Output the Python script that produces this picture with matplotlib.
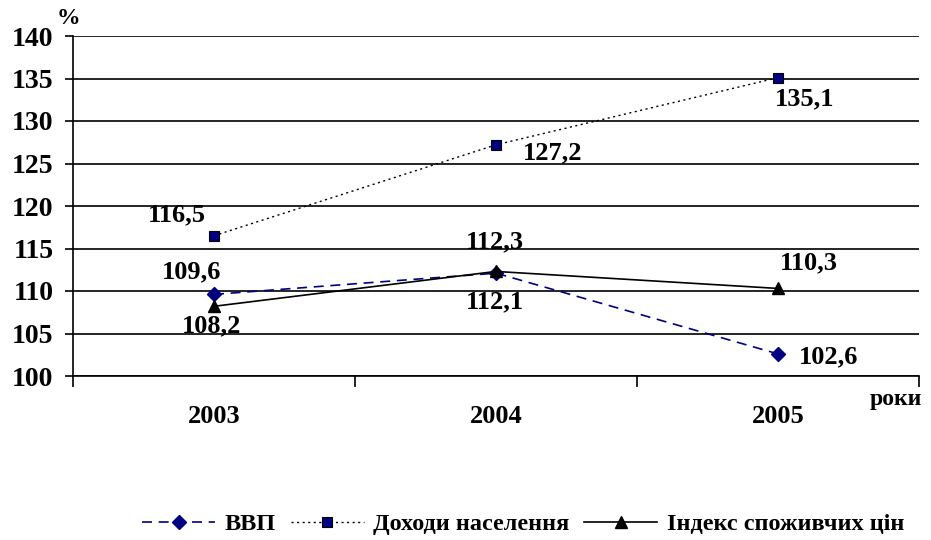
import matplotlib
matplotlib.use("Agg")
import matplotlib.pyplot as plt
from matplotlib.ticker import FixedLocator, NullFormatter

plt.rcParams['font.family'] = ['Liberation Serif', 'DejaVu Serif']
plt.rcParams['font.weight'] = 'bold'

years = ['2003', '2004', '2005']
vvp = [109.6, 112.1, 102.6]
dohody = [116.5, 127.2, 135.1]
indeks = [108.2, 112.3, 110.3]
yticks = [100, 105, 110, 115, 120, 125, 130, 135, 140]

W, H = 931, 540
fig = plt.figure(figsize=(W / 100, H / 100), dpi=100)
ax = fig.add_axes([73 / W, 1 - 376 / H, (919 - 73) / W, (376 - 36) / H])

x = [i + 0.5 for i in range(len(years))]

ax.plot(x, vvp, color='#000080', ls=(0, (6, 4)), lw=1.2, marker='D', ms=7,
        mfc='#000080', mec='#000080', label='ВВП', zorder=4)
ax.plot(x, dohody, color='black', ls=(0, (1.5, 2.5)), lw=1.0, marker='s', ms=7,
        mfc='#000080', mec='black', mew=0.8, label='Доходи населення', zorder=4)
ax.plot(x, indeks, color='black', ls='-', lw=1.2, marker='^', ms=9,
        mfc='black', mec='black', label='Індекс споживчих цін', zorder=4)

ax.set_xlim(0, 3)
ax.set_ylim(100, 140)
ax.set_yticks(yticks)
ax.set_yticklabels([str(v) for v in yticks], fontsize=20, fontweight='bold')
ax.yaxis.grid(True, color='black', lw=1.2)
ax.set_axisbelow(True)
ax.xaxis.set_major_locator(FixedLocator([0, 1, 2, 3]))
ax.xaxis.set_major_formatter(NullFormatter())
ax.tick_params(axis='x', length=8, width=1.2, direction='out')
ax.tick_params(axis='y', length=6, width=1.2, direction='out', pad=8)
for xi, yr in zip(x, years):
    ax.text(xi, -0.12, yr, transform=ax.get_xaxis_transform(), ha='center', va='center',
            fontsize=19, fontweight='bold')

for s in ['top', 'right']:
    ax.spines[s].set_visible(False)
for s in ['left', 'bottom']:
    ax.spines[s].set_linewidth(1.2)

fs = 19
def lab(xi, yv, txt, dx, dy):
    ax.annotate(txt, (xi, yv), xytext=(dx, -dy), textcoords='offset pixels',
                ha='center', va='center', fontsize=fs, fontweight='bold')

def fmt(v):
    return f"{v:.1f}".replace('.', ',')

lab(x[0], dohody[0], fmt(dohody[0]), -37, -21)
lab(x[1], dohody[1], fmt(dohody[1]), 57, 8)
lab(x[2], dohody[2], fmt(dohody[2]), 27, 21)
lab(x[0], vvp[0], fmt(vvp[0]), -22, -23)
lab(x[1], indeks[1], fmt(indeks[1]), -1, -30)
lab(x[1], vvp[1], fmt(vvp[1]), -1, 29)
lab(x[2], indeks[2], fmt(indeks[2]), 31, -26)
lab(x[0], indeks[0], fmt(indeks[0]), -2, 20)
lab(x[2], vvp[2], fmt(vvp[2]), 51, 3)

fig.text(68 / W, 1 - 19 / H, '%', ha='center', va='center', fontsize=17, fontweight='bold')
fig.text(896 / W, 1 - 400 / H, 'роки', ha='center', va='center', fontsize=17, fontweight='bold')

fig.legend(loc='center', bbox_to_anchor=(0.562, 1 - 524 / H), ncol=3, frameon=False,
           handlelength=3.0, columnspacing=0.6, handletextpad=0.4,
           prop={'weight': 'bold', 'size': 17.5})

fig.savefig('out.png', dpi=100)
